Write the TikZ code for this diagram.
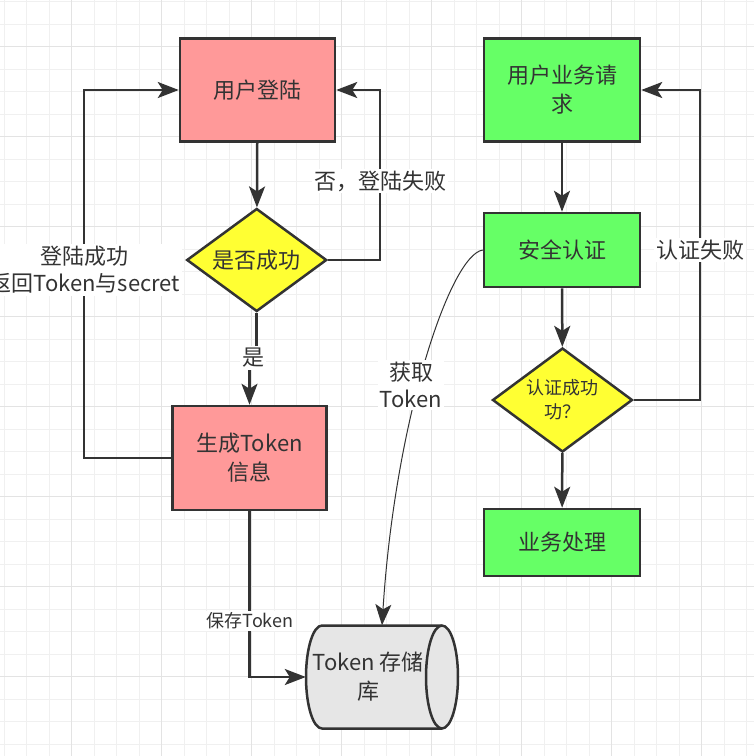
\documentclass[tikz,border=0pt]{standalone}
\usepackage{fontspec}
\setmainfont{Noto Sans CJK SC}
\usetikzlibrary{shapes.geometric,arrows.meta}
\tikzset{>={Stealth[length=21pt,width=16pt,inset=5pt]}}
\definecolor{loginred}{HTML}{FF9999}
\definecolor{bizgreen}{HTML}{66FF66}
\definecolor{askyellow}{HTML}{FFFF33}
\definecolor{edgegray}{HTML}{333333}
\definecolor{dbgray}{HTML}{E6E6E6}
\colorlet{gridminor}{black!6}
\colorlet{gridmajor}{black!11}
\tikzstyle{box}=[draw=edgegray,line width=2.5pt,text=edgegray,align=center,font=\fontsize{22}{29}\selectfont]
\tikzstyle{redbox}=[box,fill=loginred,minimum width=155pt,minimum height=103pt]
\tikzstyle{greenbox}=[box,fill=bizgreen,minimum width=156pt]
\tikzstyle{ask}=[box,diamond,fill=askyellow,minimum width=140pt,minimum height=103pt]
\tikzstyle{asktext}=[text=edgegray,align=center,font=\fontsize{22}{29}\selectfont]
\tikzstyle{store}=[inner sep=0pt,minimum width=152pt,minimum height=103pt]
\tikzstyle{flow}=[->,line width=2.5pt,edgegray]
\tikzstyle{lbl}=[fill=white,text=edgegray,align=center,inner sep=2pt,font=\fontsize{22}{27}\selectfont]

\begin{document}
\begin{tikzpicture}[x=1pt,y=-1pt]
  \useasboundingbox (0,0) rectangle (754,756);

  % GRID
  \foreach \i in {0,...,33} {
    \draw[gridminor,line width=1pt] ({4.2+22.5*\i},0) -- ++(0,756);
    \draw[gridminor,line width=1pt] (0,{1.7+22.5*\i}) -- ++(754,0);
  }
  \foreach \i in {-1,...,8} {
    \draw[gridmajor,line width=1pt] ({71.7+90*\i},0) -- ++(0,756);
    \draw[gridmajor,line width=1pt] (0,{46.7+90*\i}) -- ++(754,0);
  }

  % CYLINDER
  \draw[draw=edgegray,line width=2.5pt,fill=dbgray]
    (322,625.5) -- (442,625.5) arc[start angle=90,end angle=-90,x radius=16pt,y radius=51.5pt]
    -- (322,728.5) arc[start angle=270,end angle=90,x radius=16pt,y radius=51.5pt] -- cycle;
  \draw[edgegray,line width=2.5pt]
    (442,625.5) arc[start angle=90,end angle=270,x radius=16pt,y radius=51.5pt];

  % LOGIN SIDE
  \node[redbox] (login) at (257.5,90) {用户登陆};
  \node[ask,label={[asktext]center:是否成功}] (check) at (256.7,260) {};
  \node[redbox,minimum width=154pt,minimum height=104pt] (token) at (249.5,458) {生成Token\\信息};
  \node[store,label={[asktext,xshift=-14pt]center:Token 存储\\库}] (store) at (382,677) {};

  % BUSINESS SIDE
  \node[greenbox,minimum height=103pt] (request) at (562,90) {用户业务请\\求};
  \node[greenbox,minimum height=74pt] (authn) at (562,250) {安全认证};
  \node[ask,minimum height=104pt,label={[asktext,font=\fontsize{18}{24}\selectfont]center:认证成功\\功？}] (passed) at (562.5,400) {};
  \node[greenbox,minimum height=67pt] (handle) at (562,542.5) {业务处理};

  % BENDS
  \coordinate (failL) at (380,181);
  \coordinate (yesL)  at (253,358);
  \coordinate (succL) at (84,270);
  \coordinate (failR) at (700,250);

  % CONNECTORS
  \draw[flow] (login) -- (check);
  \draw[flow] (check.east) -| (failL) |- (login.east);
  \draw[flow] (check.south) |- (yesL) -| (token.north);
  \draw[flow] (token.west) -| (succL) |- (login.west);
  \draw[flow] (token.south) |- (store.west);
  \draw[flow] (request) -- (authn);
  \draw[flow] (authn) -- (passed);
  \draw[flow] (passed) -- (handle);
  \draw[flow] (passed.east) -| (failR) |- (request.east);
  \draw[flow,line width=1pt] (authn.west) .. controls (450,255) and (395,420) .. (store.north);

  % LABELS
  \node[lbl] (failtxt) at (failL) {否，登陆失败};
  \node[lbl] (yestxt) at (yesL) {是};
  \node[lbl] (succtxt) at (85,270) {登陆成功\\返回Token与secret};
  \node[lbl,font=\fontsize{18}{22}\selectfont] (savetxt) at (250,621) {保存Token};
  \node[lbl] (gettxt) at (411,385) {获取\\Token};
  \node[lbl] (authtxt) at (failR) {认证失败};
\end{tikzpicture}
\end{document}
